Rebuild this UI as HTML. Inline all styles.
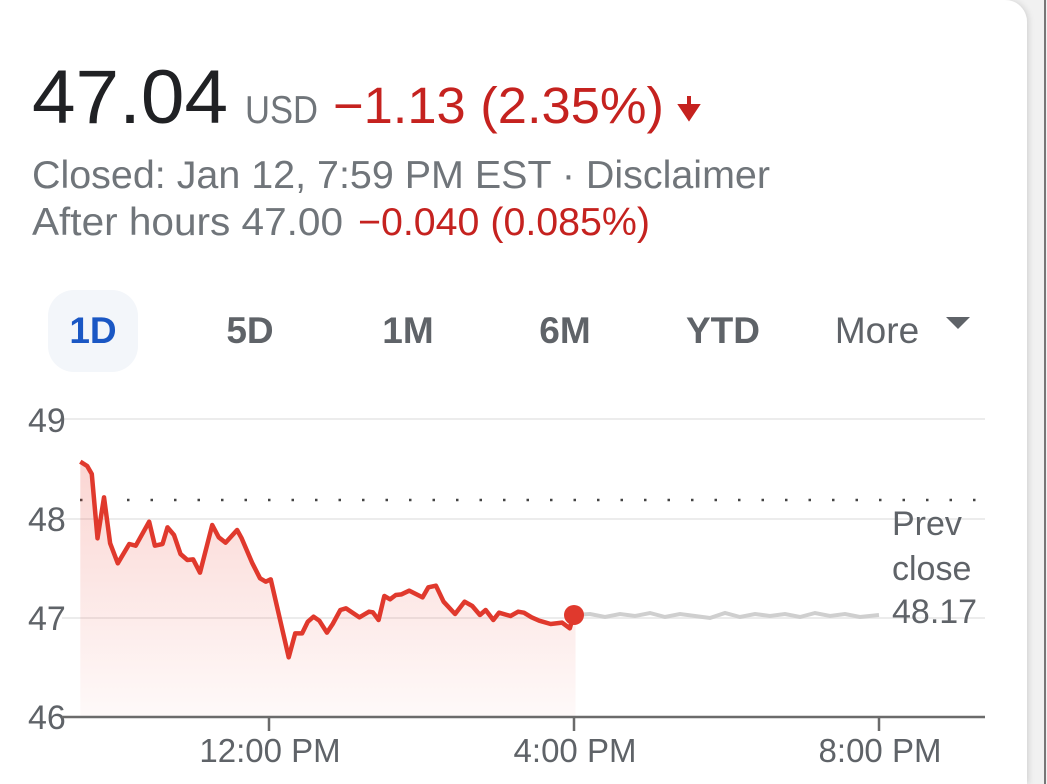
<!DOCTYPE html>
<html><head><meta charset="utf-8"><style>
html,body{margin:0;padding:0;background:#f1f1f1;}
svg{display:block;}
text{font-family:"Liberation Sans",Arial,sans-serif;}
</style></head><body>
<svg width="1047" height="784" viewBox="0 0 1047 784" xmlns="http://www.w3.org/2000/svg">
<defs>
<linearGradient id="g" x1="0" y1="0" x2="0" y2="1">
<stop offset="0" stop-color="#ea4335" stop-opacity="0.22"/>
<stop offset="1" stop-color="#ea4335" stop-opacity="0.03"/>
</linearGradient>
<filter id="sh" x="-5%" y="-5%" width="110%" height="110%"><feDropShadow dx="2" dy="0" stdDeviation="3" flood-color="#000" flood-opacity="0.12"/></filter>
</defs>
<rect x="0" y="0" width="1047" height="784" fill="#f1f1f1"/>
<line x1="1045" y1="0" x2="1045" y2="784" stroke="#777" stroke-width="2"/>
<path d="M0,0 H1005 A22,22 0 0 1 1027,22 V784 H0 Z" fill="#fff" filter="url(#sh)"/>

<text x="32" y="123" font-size="76" fill="#202124" textLength="196" lengthAdjust="spacingAndGlyphs">47.04</text>
<text x="245" y="123" font-size="39" fill="#70757a" textLength="73" lengthAdjust="spacingAndGlyphs">USD</text>
<text x="333" y="123" font-size="51" fill="#c5221f" textLength="331" lengthAdjust="spacingAndGlyphs">−1.13 (2.35%)</text>
<path d="M689,96 V112 M681,106 L689,118 L697,106 Z" stroke="#c5221f" stroke-width="4" fill="#c5221f"/>
<text x="32" y="188" font-size="39" fill="#70757a" textLength="738" lengthAdjust="spacingAndGlyphs">Closed: Jan 12, 7:59 PM EST · Disclaimer</text>
<text x="32" y="235" font-size="39" fill="#70757a" textLength="311" lengthAdjust="spacingAndGlyphs">After hours 47.00</text>
<text x="358" y="235" font-size="39" fill="#c5221f" textLength="292" lengthAdjust="spacingAndGlyphs">−0.040 (0.085%)</text>

<rect x="48" y="290" width="90" height="82" rx="26" fill="#f3f6fa"/>
<g font-size="37" font-weight="bold" text-anchor="middle">
<text x="93" y="343" fill="#1a57c4">1D</text>
<text x="250" y="343" fill="#5f6368">5D</text>
<text x="408" y="343" fill="#5f6368">1M</text>
<text x="565" y="343" fill="#5f6368">6M</text>
<text x="723" y="343" fill="#5f6368">YTD</text>
</g>
<text x="877" y="343" font-size="37" fill="#5f6368" text-anchor="middle">More</text>
<path d="M946,317 L970,317 L958,329 Z" fill="#5f6368"/>

<g stroke="#ececec" stroke-width="2">
<line x1="62" y1="419" x2="985" y2="419"/>
<line x1="62" y1="519" x2="985" y2="519"/>
<line x1="62" y1="618" x2="985" y2="618"/>
</g>
<line x1="80" y1="500" x2="985" y2="500" stroke="#444" stroke-width="2.5" stroke-dasharray="2.5 21" />
<g font-size="34" fill="#5f6368">
<text x="28" y="432">49</text>
<text x="28" y="531">48</text>
<text x="28" y="630">47</text>
<text x="28" y="729">46</text>
</g>

<polyline points="574,615 590,614 605,617 620,614 635,616 650,613 665,617 680,614 695,616 710,618 725,613 740,617 755,614 770,616 785,614 800,617 815,613 830,616 845,614 860,617 879,615" fill="none" stroke="#cfcfcf" stroke-width="4"/>

<g transform="translate(0,400) scale(0.38241,0.33333)">
<polygon fill="url(#g)" stroke="none" points="210,185 228,198 240,222 255,415 272,292 288,430 308,490 338,432 355,437 390,365 405,437 425,432 438,382 455,405 472,462 490,480 505,478 523,518 555,375 572,412 590,428 620,390 632,415 660,490 680,535 695,545 708,538 755,772 772,700 790,700 805,665 820,650 835,662 855,698 870,672 890,630 905,625 940,652 965,635 975,637 990,660 1005,588 1020,598 1035,585 1050,583 1070,572 1105,592 1120,562 1140,557 1160,605 1190,642 1215,605 1235,618 1255,645 1270,630 1290,660 1305,638 1335,648 1355,635 1370,638 1390,652 1410,662 1440,672 1470,668 1490,685 1500,645 1505,645 1505,951 210,951"/>
<polyline fill="none" stroke="#e0392d" stroke-width="4.5" stroke-linejoin="round" vector-effect="non-scaling-stroke" points="210,185 228,198 240,222 255,415 272,292 288,430 308,490 338,432 355,437 390,365 405,437 425,432 438,382 455,405 472,462 490,480 505,478 523,518 555,375 572,412 590,428 620,390 632,415 660,490 680,535 695,545 708,538 755,772 772,700 790,700 805,665 820,650 835,662 855,698 870,672 890,630 905,625 940,652 965,635 975,637 990,660 1005,588 1020,598 1035,585 1050,583 1070,572 1105,592 1120,562 1140,557 1160,605 1190,642 1215,605 1235,618 1255,645 1270,630 1290,660 1305,638 1335,648 1355,635 1370,638 1390,652 1410,662 1440,672 1470,668 1490,685 1500,645"/>
</g>
<circle cx="574" cy="615" r="10" fill="#e0392d"/>

<line x1="62" y1="717" x2="985" y2="717" stroke="#6b6b6b" stroke-width="2.5"/>
<g stroke="#6b6b6b" stroke-width="2.5">
<line x1="269" y1="717" x2="269" y2="731"/>
<line x1="574" y1="717" x2="574" y2="731"/>
<line x1="879" y1="717" x2="879" y2="731"/>
</g>
<g font-size="33" fill="#5f6368" text-anchor="middle">
<text x="270" y="762">12:00 PM</text>
<text x="575" y="762">4:00 PM</text>
<text x="880" y="762">8:00 PM</text>
</g>
<g font-size="34" fill="#5f6368">
<text x="892" y="535">Prev</text>
<text x="892" y="580">close</text>
<text x="892" y="623">48.17</text>
</g>
</svg>
</body></html>
